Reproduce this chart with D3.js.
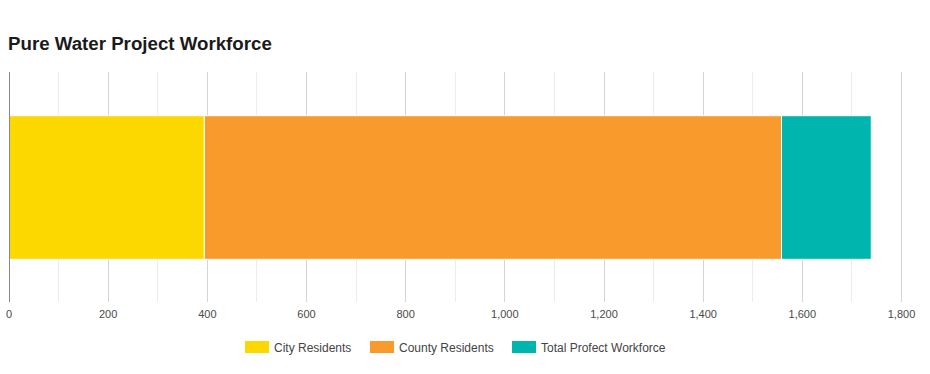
<!DOCTYPE html>
<html>
<head>
<meta charset="utf-8">
<script src="https://cdn.jsdelivr.net/npm/d3@7"></script>
<style>
  body { margin: 0; background: #fff; font-family: "Liberation Sans", Arial, sans-serif; }
</style>
</head>
<body>
<svg id="chart" width="930" height="374"></svg>
<script>
// data
const categories = ["Pure Water Project"];
const seriesNames = ["City Residents", "County Residents", "Total Profect Workforce"];
const seriesValues = [395, 1164, 181];
const seriesColors = ["#FDD800", "#F99B2C", "#00B5AD"];
const tickValues = [0, 200, 400, 600, 800, 1000, 1200, 1400, 1600, 1800];

const svg = d3.select("#chart");

const margin = { left: 8.5, right: 29 };
const width = 930;
const innerTop = 72, innerBottom = 302;

// title
svg.append("text")
    .attr("x", 8)
    .attr("y", 50)
    .attr("font-size", "18.7px")
    .attr("font-weight", "bold")
    .attr("fill", "#1a1a1a")
    .text("Pure Water Project Workforce");

const xScale = d3.scaleLinear()
    .domain([0, 1800])
    .range([margin.left, width - margin.right]);

const yScale = d3.scaleBand()
    .domain(categories)
    .range([innerTop, innerBottom])
    .paddingInner(0.38)
    .paddingOuter(0.19);

// minor gridlines
const minor = d3.range(100, 1800, 200);
svg.append("g")
    .selectAll("line")
    .data(minor)
    .join("line")
    .attr("x1", d => Math.round(xScale(d)) + 0.5)
    .attr("x2", d => Math.round(xScale(d)) + 0.5)
    .attr("y1", innerTop)
    .attr("y2", innerBottom)
    .attr("stroke", "#ececec");

// major gridlines
svg.append("g")
    .selectAll("line")
    .data(tickValues.slice(1))
    .join("line")
    .attr("x1", d => Math.round(xScale(d)) + 0.5)
    .attr("x2", d => Math.round(xScale(d)) + 0.5)
    .attr("y1", innerTop)
    .attr("y2", innerBottom)
    .attr("stroke", "#d4d4d4");

// stack
const row = { cat: categories[0] };
seriesNames.forEach((s, i) => row[s] = seriesValues[i]);
const stacked = d3.stack().keys(seriesNames)([row]);

svg.append("g")
    .selectAll("rect")
    .data(stacked)
    .join("rect")
    .attr("x", d => xScale(d[0][0]))
    .attr("y", d => yScale(d[0].data.cat))
    .attr("width", d => xScale(d[0][1]) - xScale(d[0][0]))
    .attr("height", yScale.bandwidth() + 1)
    .attr("fill", (d, i) => seriesColors[i])
    .attr("stroke", "#fff")
    .attr("stroke-width", 1);

// baseline
svg.append("line")
    .attr("x1", Math.round(xScale(0)) + 0.5)
    .attr("x2", Math.round(xScale(0)) + 0.5)
    .attr("y1", innerTop)
    .attr("y2", innerBottom)
    .attr("stroke", "#888");

// x axis labels
const xAxis = d3.axisBottom(xScale)
    .tickValues(tickValues)
    .tickSize(0)
    .tickPadding(0)
    .tickFormat(d3.format(","));

const axisG = svg.append("g")
    .attr("transform", `translate(0, ${innerBottom + 8})`)
    .call(xAxis);
axisG.select(".domain").remove();
axisG.selectAll("text")
    .attr("font-family", "Liberation Sans, Arial, sans-serif")
    .attr("font-size", "11px")
    .attr("fill", "#4a4a4a");

// legend
const legendX = [245, 370, 512];
const legend = svg.append("g")
    .selectAll("g")
    .data(seriesNames)
    .join("g")
    .attr("transform", (d, i) => `translate(${legendX[i]}, 341)`);

legend.append("rect")
    .attr("width", 24)
    .attr("height", 12)
    .attr("fill", (d, i) => seriesColors[i]);

legend.append("text")
    .attr("x", 29)
    .attr("y", 10.5)
    .attr("font-size", "12px")
    .attr("fill", "#444")
    .text(d => d);
</script>
</body>
</html>
